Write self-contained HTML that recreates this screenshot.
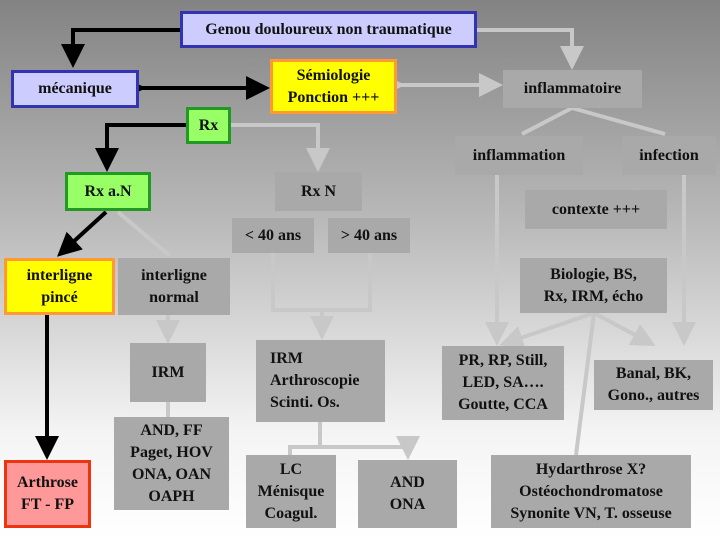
<!DOCTYPE html>
<html><head><meta charset="utf-8"><style>
html,body{margin:0;padding:0}
body{width:720px;height:540px;position:relative;overflow:hidden;background:linear-gradient(#838383 0%,#b8b8b8 40%,#f4f4f4 80%,#ffffff 100%);font-family:"Liberation Serif",serif;font-weight:bold;font-size:16px;color:#111}
.b{position:absolute;box-sizing:border-box;display:flex;align-items:center;justify-content:center;text-align:center;line-height:22px;background:#a9a9a9}
.blue{background:#ccccff;border:3px solid #3333b0}
.yel{background:#ffff00;border:3px solid #ff9933}
.grn{background:#99ff66;border:3px solid #229922}
.red{background:#ff9999;border:3px solid #ee3311}
svg{position:absolute;left:0;top:0}
</style></head><body>
<svg width="720" height="540">
<defs>
<marker id="ak" markerWidth="6" markerHeight="6" refX="5" refY="3" orient="auto"><path d="M0,0L6,3L0,6z" fill="#000"/></marker>
<marker id="ag" markerWidth="6" markerHeight="6" refX="5" refY="3" orient="auto"><path d="M0,0L6,3L0,6z" fill="#c8c8c8"/></marker>
</defs>
<g fill="none" stroke="#000" stroke-width="4">
<polyline points="180,30 73,30 73,64" marker-end="url(#ak)"/>
<line x1="142" y1="88" x2="266" y2="88" marker-end="url(#ak)" marker-start="url(#ak)"/>
<polyline points="186,125 107,125 107,168" marker-end="url(#ak)"/>
<line x1="106" y1="212" x2="60" y2="254" marker-end="url(#ak)"/>
<line x1="47" y1="315" x2="47" y2="456" marker-end="url(#ak)"/>
</g>
<g fill="none" stroke="#c8c8c8" stroke-width="4">
<polyline points="477,30 572,30 572,66" marker-end="url(#ag)"/>
<line x1="401" y1="85" x2="499" y2="85" marker-end="url(#ag)" marker-start="url(#ag)"/>
<polyline points="231,125 318,125 318,168" marker-end="url(#ag)"/>
<line x1="118" y1="212" x2="170" y2="256"/>
<line x1="168" y1="315" x2="168" y2="340" marker-end="url(#ag)"/>
<line x1="168" y1="402" x2="168" y2="417"/>
<polyline points="273,253 273,310 370,310 370,253"/>
<line x1="322" y1="310" x2="322" y2="336" marker-end="url(#ag)"/>
<polyline points="320,422 320,447"/>
<polyline points="290,455 290,447 408,447 408,456" marker-end="url(#ag)"/>
<line x1="572" y1="108" x2="522" y2="134"/>
<line x1="572" y1="108" x2="665" y2="134"/>
<line x1="497" y1="175" x2="497" y2="342" marker-end="url(#ag)"/>
<line x1="684" y1="175" x2="684" y2="342" marker-end="url(#ag)"/>
<line x1="594" y1="313" x2="503" y2="344" marker-end="url(#ag)"/>
<line x1="594" y1="313" x2="652" y2="344" marker-end="url(#ag)"/>
<line x1="594" y1="313" x2="576" y2="455"/>
</g>
</svg>
<div class="b blue" style="left:180px;top:11px;width:297px;height:37px">Genou douloureux non traumatique</div>
<div class="b blue" style="left:11px;top:70px;width:128px;height:38px">mécanique</div>
<div class="b yel" style="left:270px;top:59px;width:127px;height:55px">Sémiologie<br>Ponction +++</div>
<div class="b" style="left:503px;top:70px;width:139px;height:38px">inflammatoire</div>
<div class="b grn" style="left:186px;top:107px;width:45px;height:37px">Rx</div>
<div class="b" style="left:455px;top:136px;width:128px;height:39px">inflammation</div>
<div class="b" style="left:622px;top:136px;width:94px;height:39px">infection</div>
<div class="b grn" style="left:65px;top:172px;width:86px;height:39px">Rx a.N</div>
<div class="b" style="left:275px;top:172px;width:87px;height:39px">Rx N</div>
<div class="b" style="left:525px;top:190px;width:142px;height:39px">contexte +++</div>
<div class="b" style="left:232px;top:218px;width:82px;height:35px">&lt; 40 ans</div>
<div class="b" style="left:328px;top:218px;width:82px;height:35px">&gt; 40 ans</div>
<div class="b yel" style="left:4px;top:258px;width:111px;height:57px">interligne<br>pincé</div>
<div class="b" style="left:118px;top:258px;width:112px;height:57px">interligne<br>normal</div>
<div class="b" style="left:520px;top:258px;width:147px;height:55px">Biologie, BS,<br>Rx, IRM, écho</div>
<div class="b" style="left:130px;top:343px;width:76px;height:59px">IRM</div>
<div class="b" style="left:256px;top:340px;width:129px;height:82px;justify-content:flex-start;text-align:left;padding-left:14px">IRM<br>Arthroscopie<br>Scinti. Os.</div>
<div class="b" style="left:442px;top:346px;width:122px;height:74px">PR, RP, Still,<br>LED, SA….<br>Goutte, CCA</div>
<div class="b" style="left:594px;top:360px;width:119px;height:50px">Banal, BK,<br>Gono., autres</div>
<div class="b" style="left:114px;top:417px;width:115px;height:93px">AND, FF<br>Paget, HOV<br>ONA, OAN<br>OAPH</div>
<div class="b red" style="left:4px;top:460px;width:87px;height:68px">Arthrose<br>FT - FP</div>
<div class="b" style="left:246px;top:455px;width:90px;height:73px">LC<br>Ménisque<br>Coagul.</div>
<div class="b" style="left:358px;top:460px;width:99px;height:68px">AND<br>ONA</div>
<div class="b" style="left:491px;top:455px;width:200px;height:73px">Hydarthrose X?<br>Ostéochondromatose<br>Synonite VN, T. osseuse</div>
</body></html>
